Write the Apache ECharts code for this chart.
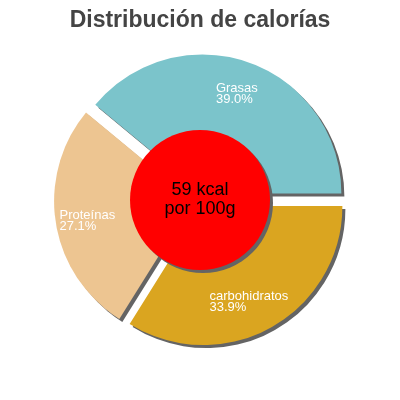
<!DOCTYPE html>
<html>
<head>
<meta charset="utf-8">
<script src="https://cdn.jsdelivr.net/npm/echarts@6/dist/echarts.min.js"></script>
<style>
html,body{margin:0;padding:0;background:#fff;}
#chart{width:400px;height:400px;}
</style>
</head>
<body>
<div id="chart"></div>
<script>
var titleText = 'Distribución de calorías';
var categories = ['Grasas', 'Proteínas', 'carbohidratos'];
var values = [39.0, 27.1, 33.9];
var centerLines = ['59 kcal', 'por 100g'];

var colors = ['#7bc4cb', '#edc591', '#daa520'];
var labelShifts = [[-11, -31], [-62, 8], [-29, 32]];
var FONT = '"Liberation Sans", Arial, sans-serif';

var chart = echarts.init(document.getElementById('chart'), null, {renderer: 'canvas'});

var pieData = categories.map(function (name, i) {
  return {
    name: name,
    value: values[i],
    selected: true,
    itemStyle: {color: colors[i]},
    select: {itemStyle: {color: colors[i], borderWidth: 0}}
  };
});

chart.setOption({
  animation: false,
  title: {
    text: titleText,
    left: 'center',
    top: 4,
    textStyle: {fontFamily: FONT, fontSize: 23, fontWeight: 'bold', color: '#444444'}
  },
  series: [
    {
      type: 'pie',
      center: [200, 200],
      radius: [0, 139],
      startAngle: 0,
      clockwise: false,
      selectedMode: 'multiple',
      selectedOffset: 7,
      emphasis: {disabled: true},
      itemStyle: {
        borderWidth: 0,
        shadowColor: '#646464',
        shadowOffsetX: 3,
        shadowOffsetY: 3,
        shadowBlur: 0
      },
      label: {
        show: true,
        position: 'inside',
        fontFamily: FONT,
        fontSize: 13,
        color: '#ffffff',
        lineHeight: 11,
        formatter: function (p) {
          return p.name + '\n' + Number(p.value).toFixed(1) + '%';
        }
      },
      labelLayout: function (params) {
        var s = labelShifts[params.dataIndex];
        return {dx: s[0], dy: s[1], align: 'left', verticalAlign: 'middle'};
      },
      labelLine: {show: false},
      data: pieData
    },
    {
      type: 'pie',
      center: [200, 200],
      radius: [0, 70],
      silent: true,
      emphasis: {disabled: true},
      itemStyle: {
        color: '#ff0000',
        shadowColor: '#646464',
        shadowOffsetX: 3,
        shadowOffsetY: 3,
        shadowBlur: 0
      },
      label: {
        show: true,
        position: 'center',
        fontFamily: FONT,
        fontSize: 18,
        color: '#000000',
        lineHeight: 19,
        formatter: centerLines.join('\n')
      },
      labelLine: {show: false},
      data: [{name: 'kcal', value: 1}]
    }
  ]
});
</script>
</body>
</html>
